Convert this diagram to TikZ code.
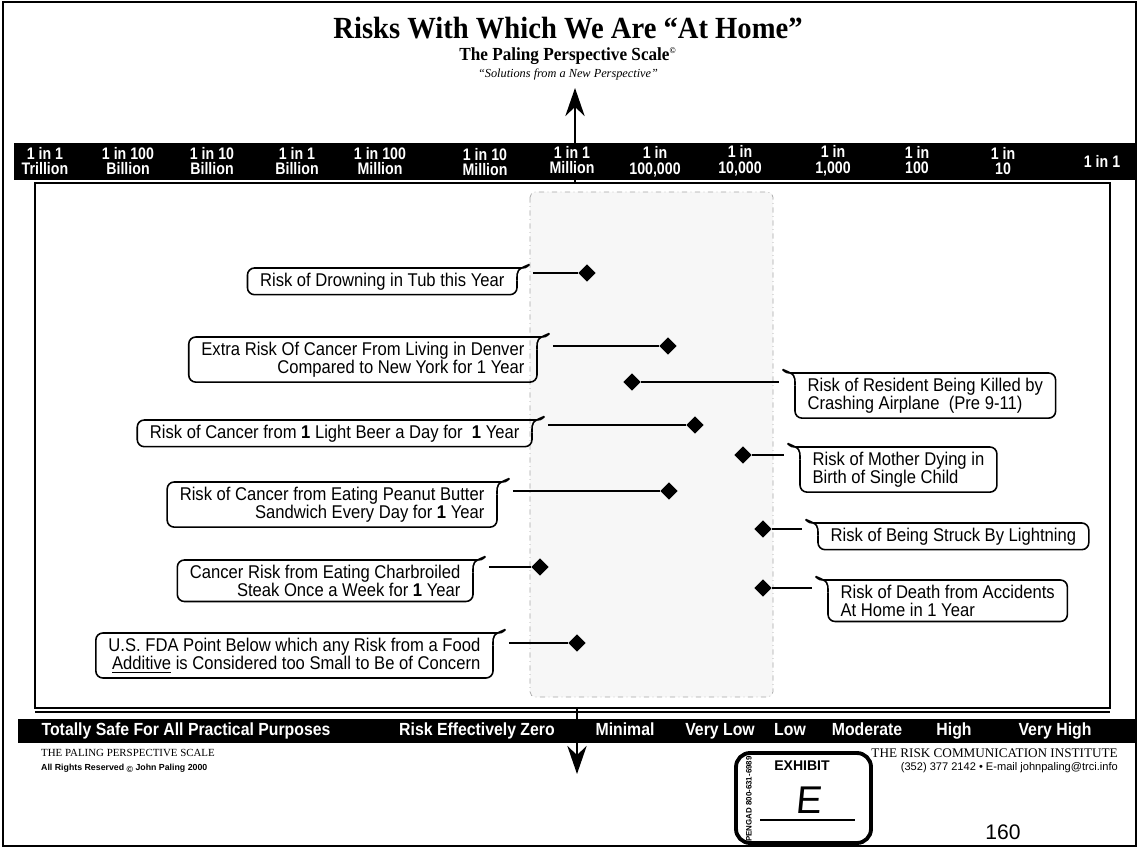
\documentclass[tikz,border=0pt]{standalone}
\usepackage{fontspec}
\setmainfont{Liberation Serif}
\setsansfont{Liberation Sans}
\newfontfamily\condsf[FakeStretch=0.9]{Liberation Sans}
\newfontfamily\barsf[FakeStretch=0.85]{Liberation Sans}
\newfontfamily\headfont[FakeStretch=0.93]{Liberation Serif}
\usetikzlibrary{shapes.geometric,arrows.meta}
\tikzset{
  risk/.style={diamond,fill=black,inner sep=0pt,minimum size=10pt},
  note/.style={inner xsep=7pt,inner ysep=2.5pt,font=\condsf\fontsize{10.5}{10.5}\selectfont},
  leftnote/.style={note,anchor=north east,align=right},
  rightnote/.style={note,anchor=north west,align=left},
  scalelbl/.style={text=white,inner sep=0pt,align=center,font=\barsf\bfseries\fontsize{9.5}{9}\selectfont},
  zonelbl/.style={text=white,inner sep=0pt,text height=7.5pt,text depth=2pt,font=\condsf\bfseries\fontsize{10}{12}\selectfont},
  link/.style={line width=0.8pt}
}
\newcommand{\tailL}[1]{%
  \draw[line width=0.9pt,rounded corners=4pt] ([yshift=-7pt]#1.north east) -- (#1.south east) -- (#1.south west) -- (#1.north west) -- (#1.north east);
  \draw[line width=0.9pt] (#1.north east) .. controls ([xshift=5pt]#1.north east) .. ([xshift=7pt,yshift=2pt]#1.north east);
  \draw[line width=0.9pt] ([yshift=-7pt]#1.north east) .. controls ([yshift=-1pt]#1.north east) .. ([xshift=7pt,yshift=2pt]#1.north east);
  \coordinate (#1t) at ([xshift=9pt]#1.north east);}
\newcommand{\tailR}[1]{%
  \draw[line width=0.9pt,rounded corners=4pt] ([yshift=-7pt]#1.north west) -- (#1.south west) -- (#1.south east) -- (#1.north east) -- (#1.north west);
  \draw[line width=0.9pt] (#1.north west) .. controls ([xshift=-5pt]#1.north west) .. ([xshift=-7pt,yshift=2pt]#1.north west);
  \draw[line width=0.9pt] ([yshift=-7pt]#1.north west) .. controls ([yshift=-1pt]#1.north west) .. ([xshift=-7pt,yshift=2pt]#1.north west);
  \coordinate (#1t) at ([xshift=-9pt]#1.north west);}

\begin{document}
\begin{tikzpicture}[x=0.02cm,y=-0.02cm]
  \useasboundingbox (0,0) rectangle (1138,847);
  \draw[line width=0.8pt] (3,2) rectangle (1136,846);

  \node[font=\headfont\bfseries\fontsize{17.5}{20}\selectfont] (title) at (568,28) {Risks With Which We Are “At Home”};
  \node[font=\headfont\bfseries\fontsize{10.5}{12}\selectfont] (sub) at (568,56) {The Paling Perspective Scale\textsuperscript{\fontsize{5}{5}\selectfont ©}};
  \node[font=\itshape\fontsize{7}{8}\selectfont] (tag) at (568,74) {“Solutions from a New Perspective”};

  \coordinate (up0) at (575,183);
  \coordinate (up1) at (575,88);
  \coordinate (dn0) at (577,708);
  \coordinate (dn1) at (577,774);
  \draw[line width=1.1pt,-{Stealth[width=11pt,length=16pt]}] (up0)--(up1);

  \filldraw[fill=gray!6,draw=gray!70,dash dot,line width=0.4pt,rounded corners=3pt] (530,192) rectangle (773,697);
  \draw[line width=1.6pt] (35,183) rectangle (1110,708);
  \draw[line width=0.7pt] (35,712)--(1110,712);

  \fill (14,143) rectangle (1136,180);
  \node[scalelbl] (s1) at (45,161) {1 in 1\\Trillion};
  \node[scalelbl] (s2) at (128,161) {1 in 100\\Billion};
  \node[scalelbl] (s3) at (212,161) {1 in 10\\Billion};
  \node[scalelbl] (s4) at (297,161) {1 in 1\\Billion};
  \node[scalelbl] (s5) at (380,161) {1 in 100\\Million};
  \node[scalelbl] (s6) at (485,162) {1 in 10\\Million};
  \node[scalelbl] (s7) at (572,160) {1 in 1\\Million};
  \node[scalelbl] (s8) at (655,162) {1 in\\100,000};
  \node[scalelbl] (s9) at (740,161) {1 in\\10,000};
  \node[scalelbl] (s10) at (833,161) {1 in\\1,000};
  \node[scalelbl] (s11) at (917,160) {1 in\\100};
  \node[scalelbl] (s12) at (1003,161) {1 in\\10};
  \node[scalelbl] (s13) at (1102,161) {1 in 1};

  \node[risk] (d1) at (587,273){};
  \node[risk] (d2) at (668,346){};
  \node[risk] (d3) at (632,382){};
  \node[risk] (d4) at (695,425){};
  \node[risk] (d5) at (743,455){};
  \node[risk] (d6) at (669,491){};
  \node[risk] (d7) at (763,529){};
  \node[risk] (d8) at (540,567){};
  \node[risk] (d9) at (763,588){};
  \node[risk] (d10) at (577,643){};

  \node[leftnote] (c1) at (517,268) {Risk of Drowning in Tub this Year};
  \node[leftnote] (c2) at (537,337) {Extra Risk Of Cancer From Living in Denver\\Compared to New York for 1 Year};
  \node[rightnote] (c3) at (795,373) {Risk of Resident Being Killed by\\Crashing Airplane~~(Pre 9-11)};
  \node[leftnote] (c4) at (532,420) {Risk of Cancer from \textbf{1} Light Beer a Day for~~\textbf{1} Year};
  \node[rightnote] (c5) at (800,447) {Risk of Mother Dying in\\Birth of Single Child};
  \node[leftnote] (c6) at (497,482) {Risk of Cancer from Eating Peanut Butter\\Sandwich Every Day for \textbf{1} Year};
  \node[rightnote] (c7) at (818,523) {Risk of Being Struck By Lightning};
  \node[leftnote] (c8) at (473,560) {Cancer Risk from Eating Charbroiled\\Steak Once a Week for \textbf{1} Year};
  \node[rightnote] (c9) at (828,580) {Risk of Death from Accidents\\At Home in 1 Year};
  \node[leftnote] (c10) at (493,633) {U.S. FDA Point Below which any Risk from a Food\\\underline{Additive} is Considered too Small to Be of Concern};
  \tailL{c1}\tailL{c2}\tailR{c3}\tailL{c4}\tailR{c5}
  \tailL{c6}\tailR{c7}\tailL{c8}\tailR{c9}\tailL{c10}

  \draw[link] (c1t|-d1)--(d1) (c2t|-d2)--(d2) (c4t|-d4)--(d4) (c6t|-d6)--(d6) (c8t|-d8)--(d8) (c10t|-d10)--(d10);
  \draw[link] (d3)--(c3t|-d3) (d5)--(c5t|-d5) (d7)--(c7t|-d7) (d9)--(c9t|-d9);

  \fill (18,719) rectangle (1136,743);
  \draw[line width=1.1pt,-{Stealth[width=11pt,length=16pt]}] (dn0)--(dn1);
  \node[zonelbl] (z1) at (186,731) {Totally Safe For All Practical Purposes};
  \node[zonelbl] (z2) at (477,731) {Risk Effectively Zero};
  \node[zonelbl] (z3) at (625,731) {Minimal};
  \node[zonelbl] (z4) at (720,731) {Very Low};
  \node[zonelbl] (z5) at (790,731) {Low};
  \node[zonelbl] (z6) at (867,731) {Moderate};
  \node[zonelbl] (z7) at (954,731) {High};
  \node[zonelbl] (z8) at (1055,731) {Very High};

  \node[anchor=west,font=\fontsize{6.2}{7}\selectfont] (f1) at (35,753) {THE PALING PERSPECTIVE SCALE};
  \node[anchor=west,font=\sffamily\bfseries\fontsize{5}{6}\selectfont] (f2) at (35,768) {All Rights Reserved \raisebox{-1pt}{©} John Paling 2000};
  \node[anchor=east,font=\fontsize{7.5}{9}\selectfont] (f3) at (1124,753) {THE RISK COMMUNICATION INSTITUTE};
  \node[anchor=east,font=\sffamily\fontsize{6.3}{7}\selectfont] (f4) at (1124,768) {(352) 377 2142 • E-mail johnpaling@trci.info};
  \node[font=\sffamily\fontsize{12}{14}\selectfont] (pg) at (1003,832) {160};

  \draw[line width=2.2pt,rounded corners=8pt] (736,753) rectangle (871,843);
  \node[font=\sffamily\bfseries\fontsize{8}{9}\selectfont] (ex) at (802,766) {EXHIBIT};
  \node[font=\sffamily\fontsize{22}{22}\selectfont,xslant=0.1] (exE) at (810,800) {E};
  \draw[line width=0.8pt] (760,820)--(855,820);
  \node[rotate=90,font=\sffamily\bfseries\fontsize{4.5}{5}\selectfont] (pen) at (749,799) {PENGAD 800-631-6989};
\end{tikzpicture}
\end{document}
